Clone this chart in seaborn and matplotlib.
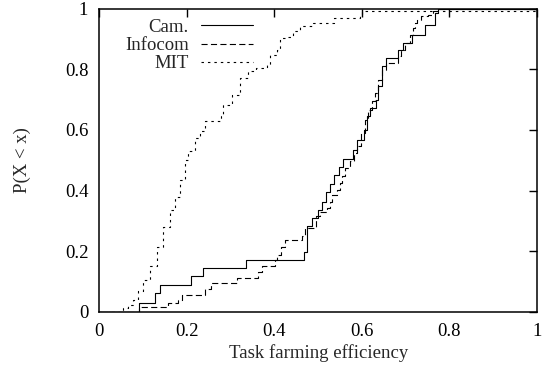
import numpy as np
import pandas as pd
import matplotlib
matplotlib.use("Agg")
import matplotlib.pyplot as plt
import seaborn as sns

# ── CDF step points (x where the step happens, P after the step) ────────────
cam_x = [0.0, 0.091, 0.127, 0.138, 0.209, 0.237, 0.336, 0.468, 0.474, 0.485,
         0.500, 0.508, 0.518, 0.528, 0.537, 0.547, 0.557, 0.580, 0.588, 0.605,
         0.611, 0.618, 0.631, 0.637, 0.646, 0.656, 0.682, 0.694, 0.714, 0.744,
         0.767, 0.774, 1.0]
cam_p = [0.0, 0.028, 0.062, 0.089, 0.117, 0.144, 0.172, 0.199, 0.284, 0.309,
         0.337, 0.364, 0.394, 0.422, 0.452, 0.478, 0.504, 0.535, 0.568, 0.601,
         0.645, 0.672, 0.700, 0.744, 0.810, 0.837, 0.865, 0.887, 0.914, 0.947,
         0.986, 1.0, 1.0]

infocom_x = [0.0, 0.091, 0.157, 0.180, 0.188, 0.241, 0.256, 0.314, 0.363, 0.371,
             0.401, 0.405, 0.416, 0.424, 0.462, 0.470, 0.496, 0.504, 0.519, 0.527,
             0.532, 0.542, 0.550, 0.554, 0.561, 0.573, 0.582, 0.588, 0.598, 0.607,
             0.614, 0.622, 0.630, 0.637, 0.645, 0.656, 0.683, 0.690, 0.698, 0.710,
             0.716, 0.721, 0.725, 0.736, 0.752, 0.763, 0.772, 1.0]
infocom_p = [0.0, 0.017, 0.029, 0.040, 0.056, 0.075, 0.095, 0.111, 0.130, 0.150,
             0.170, 0.188, 0.215, 0.238, 0.251, 0.276, 0.315, 0.331, 0.342, 0.364,
             0.386, 0.403, 0.425, 0.447, 0.474, 0.496, 0.524, 0.546, 0.590, 0.634,
             0.667, 0.694, 0.722, 0.766, 0.799, 0.820, 0.843, 0.865, 0.887, 0.914,
             0.935, 0.953, 0.964, 0.975, 0.980, 0.991, 1.0, 1.0]

mit_x = [0.0, 0.054, 0.066, 0.077, 0.088, 0.100, 0.115, 0.131, 0.146, 0.161,
         0.173, 0.184, 0.196, 0.203, 0.218, 0.230, 0.241, 0.279, 0.283, 0.302,
         0.321, 0.340, 0.359, 0.382, 0.390, 0.405, 0.413, 0.428, 0.443, 0.458,
         0.489, 0.535, 0.595, 0.599, 1.0]
mit_p = [0.0, 0.012, 0.023, 0.040, 0.070, 0.106, 0.150, 0.215, 0.280, 0.337,
         0.380, 0.436, 0.500, 0.529, 0.573, 0.595, 0.628, 0.645, 0.683, 0.716,
         0.771, 0.793, 0.804, 0.815, 0.848, 0.865, 0.903, 0.908, 0.925, 0.941,
         0.953, 0.970, 0.975, 0.991, 0.991]

ticks = [0, 0.2, 0.4, 0.6, 0.8, 1]
tick_labels = ["0", "0.2", "0.4", "0.6", "0.8", "1"]

# ── Style: gnuplot-ish look ─────────────────────────────────────────────────
sns.set_style("white")
plt.rcParams['font.family'] = ['Liberation Serif', 'DejaVu Serif']

fig = plt.figure(figsize=(5.43, 3.74), dpi=100)
ax = fig.add_axes([0.183, 0.166, 0.806, 0.811])

series = [
    ("Cam.", cam_x, cam_p, '-'),
    ("Infocom", infocom_x, infocom_p, (0, (5.5, 3))),
    ("MIT", mit_x, mit_p, (0, (2.2, 3.6))),
]
for name, xs, ps, ls in series:
    sns.lineplot(x=xs, y=ps, estimator=None, sort=False, drawstyle='steps-post',
                 color='black', lw=0.8, linestyle=ls, label=name, ax=ax)

ax.set_xlim(0, 1)
ax.set_ylim(0, 1)
ax.set_xticks(ticks)
ax.set_xticklabels(tick_labels)
ax.set_yticks(ticks)
ax.set_yticklabels(tick_labels)
ax.tick_params(direction='in', length=6, width=1.0, top=True, right=True,
               labelsize=13.5, pad=8, colors='black')
for s in ax.spines.values():
    s.set_linewidth(1.1)
    s.set_color('black')

ax.set_xlabel('Task farming efficiency', fontsize=13.5, labelpad=3)
ax.set_ylabel('P(X < x)', fontsize=13.5, labelpad=24)

ax.legend(loc='upper right', bbox_to_anchor=(0.352, 0.966), frameon=False,
          markerfirst=False, fontsize=13.5, handlelength=2.8, handletextpad=0.65,
          labelspacing=0.05, borderpad=0, borderaxespad=0)

plt.savefig('out.png', dpi=100)
